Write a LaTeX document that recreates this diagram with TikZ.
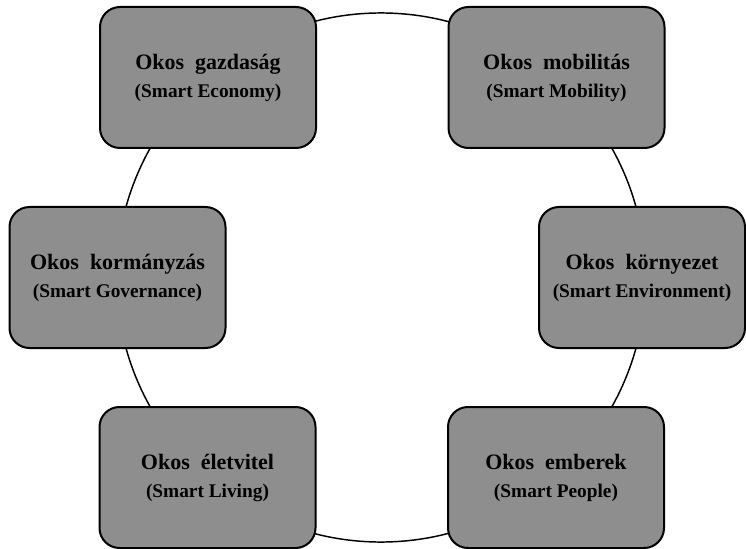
\documentclass[tikz,border=0pt]{standalone}
\usepackage{fontspec}
\setmainfont{Liberation Serif}
\usepackage{tikz}
\usetikzlibrary{positioning}
\definecolor{boxgray}{RGB}{142,142,142}
\tikzstyle{okosbox} = [draw=black, line width=1.5pt, fill=boxgray, rounded corners=15pt,
  minimum width=162pt, minimum height=105.75pt, align=center,
  font=\fontsize{16.5}{21}\selectfont\bfseries]
\newcommand{\eng}[1]{{\fontsize{14.5}{21}\selectfont #1}}

\begin{document}
\begin{tikzpicture}[x=0.75pt,y=-0.75pt]
        \useasboundingbox (0,0) rectangle (746,549);
        \coordinate (ctr) at (381,277.5);
        \draw[line width=1.1pt] (ctr) circle (198.4pt);
        \node[okosbox] (gazd) at (208,77.5) {Okos\ \ gazdaság\\ \eng{(Smart Economy)}};
        \node[okosbox] (mobil) at (556.5,77.5) {Okos\ \ mobilitás\\ \eng{(Smart Mobility)}};
        \node[okosbox] (korm) at (117.5,277.5) {Okos\ \ kormányzás\\ \eng{(Smart Governance)}};
        \node[okosbox, minimum width=154.5pt] (korny) at (642,277.5) {Okos\ \ környezet\\ \eng{(Smart Environment)}};
        \node[okosbox] (elet) at (207.5,477.5) {Okos\ \ életvitel\\ \eng{(Smart Living)}};
        \node[okosbox] (ember) at (556,477.5) {Okos\ \ emberek\\ \eng{(Smart People)}};
    \end{tikzpicture}
\end{document}
